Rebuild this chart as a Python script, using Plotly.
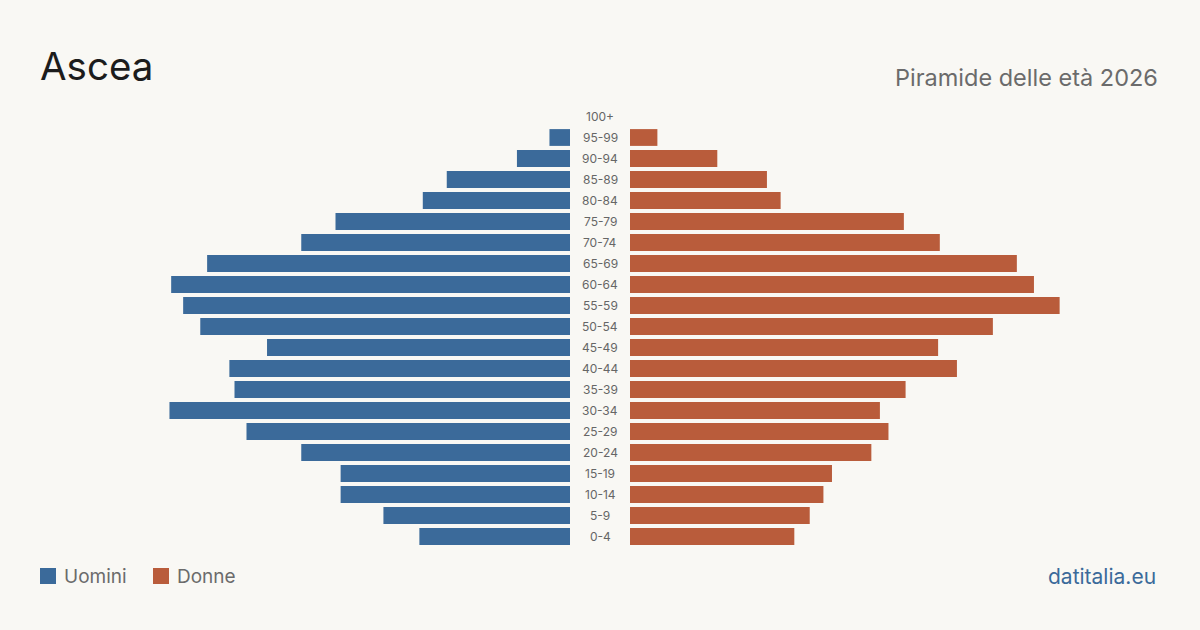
import plotly.graph_objects as go

W, H = 1200, 630

age_groups = ["0-4", "5-9", "10-14", "15-19", "20-24", "25-29", "30-34", "35-39",
              "40-44", "45-49", "50-54", "55-59", "60-64", "65-69", "70-74",
              "75-79", "80-84", "85-89", "90-94", "95-99", "100+"]
men = [88, 109, 134, 134, 157, 189, 234, 196, 199, 177, 216, 226, 233, 212,
       157, 137, 86, 72, 31, 12, 0]
women = [96, 105, 113, 118, 141, 151, 146, 161, 191, 180, 212, 251, 236, 226,
         181, 160, 88, 80, 51, 16, 0]

title = "Ascea"
subtitle = "Piramide delle età 2026"
source = "datitalia.eu"
legend_labels = ["Uomini", "Donne"]

BLUE = "#3b6a9a"
ORANGE = "#b95c3b"
BG = "#f9f8f4"
FONT = "Inter"

xmax = 333

fig = go.Figure()
fig.add_trace(go.Bar(y=age_groups, x=men, orientation="h", marker_color=BLUE,
                     marker_line_width=0,
                     name=legend_labels[0], xaxis="x", yaxis="y",
                     hoverinfo="x+y"))
fig.add_trace(go.Bar(y=age_groups, x=women, orientation="h", marker_color=ORANGE,
                     marker_line_width=0,
                     name=legend_labels[1], xaxis="x2", yaxis="y",
                     hoverinfo="x+y"))

top, bottom = 106, 83

annotations = []
for g in age_groups:
    annotations.append(dict(xref="paper", yref="y", x=0.5, y=g, text=g,
                            showarrow=False, xanchor="center", yanchor="middle",
                            font=dict(family=FONT, size=12, color="#666666")))

def py(px):
    plot_h = H - top - bottom
    return (H - bottom - px) / plot_h

def pxx(px):
    return px / W

annotations.append(dict(xref="paper", yref="paper", x=pxx(38), y=py(66), text=title,
                        showarrow=False, xanchor="left", yanchor="middle",
                        font=dict(family=FONT, size=38.5, color="#1c1c1c")))
annotations.append(dict(xref="paper", yref="paper", x=pxx(1160), y=py(77), text=subtitle,
                        showarrow=False, xanchor="right", yanchor="middle",
                        font=dict(family=FONT, size=23.5, color="#6b6b6b")))
annotations.append(dict(xref="paper", yref="paper", x=pxx(1158), y=py(576), text=source,
                        showarrow=False, xanchor="right", yanchor="middle",
                        font=dict(family=FONT, size=21, color=BLUE)))

shapes = []
leg = [(40, legend_labels[0], BLUE), (153, legend_labels[1], ORANGE)]
for x0, lab, col in leg:
    shapes.append(dict(type="rect", xref="paper", yref="paper",
                       x0=pxx(x0), x1=pxx(x0 + 16), y0=py(584), y1=py(568),
                       fillcolor=col, line=dict(width=0)))
    annotations.append(dict(xref="paper", yref="paper", x=pxx(x0 + 22), y=py(576), text=lab,
                            showarrow=False, xanchor="left", yanchor="middle",
                            font=dict(family=FONT, size=19, color="#6b6b6b")))

fig.update_layout(
    width=W, height=H,
    margin=dict(l=0, r=0, t=top, b=bottom),
    paper_bgcolor=BG, plot_bgcolor=BG,
    showlegend=False,
    bargap=0.2,
    xaxis=dict(domain=[0, 570 / W], range=[xmax, 0], visible=False, fixedrange=True),
    xaxis2=dict(domain=[630 / W, 1], range=[0, xmax], visible=False, anchor="y", fixedrange=True),
    yaxis=dict(categoryorder="array", categoryarray=age_groups, range=[-0.5, 20.5],
               visible=False, anchor="x", fixedrange=True),
    annotations=annotations,
    shapes=shapes,
)

fig.write_html("out.html")
